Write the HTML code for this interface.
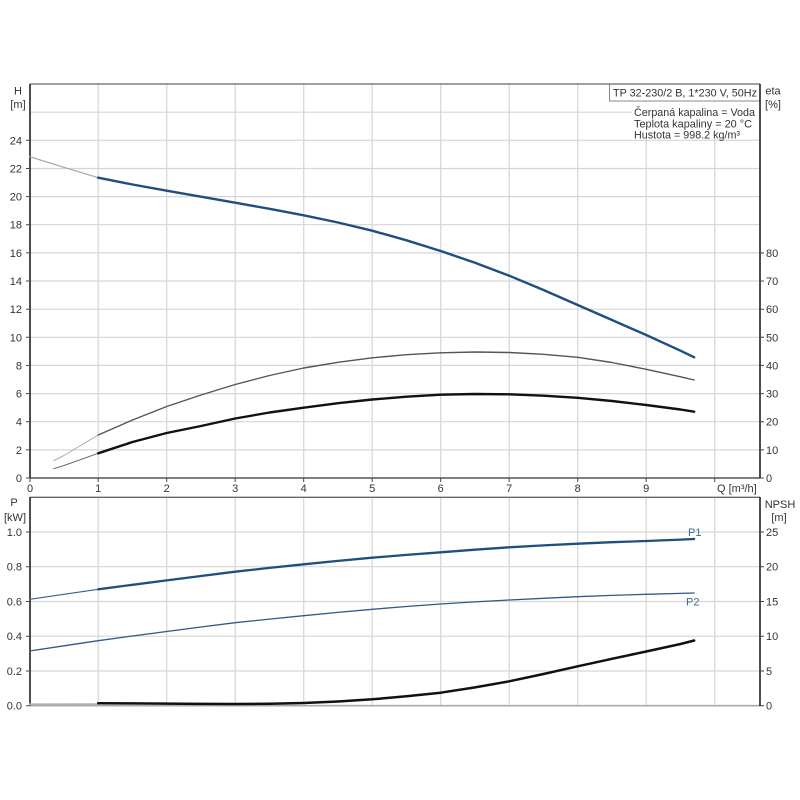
<!DOCTYPE html>
<html><head><meta charset="utf-8"><style>
html,body{margin:0;padding:0;background:#fff;}
svg{display:block;}
text{font-family:"Liberation Sans",Arial,sans-serif;fill:#333;font-size:11px;}
</style></head><body>
<svg width="800" height="800" viewBox="0 0 800 800" xmlns="http://www.w3.org/2000/svg">
<rect x="0" y="0" width="800" height="800" fill="#fff"/>
<!-- top chart grid -->
<g stroke="#d6d6d6" stroke-width="1.2" fill="none">
<path d="M30 449.9H760M30 421.7H760M30 393.6H760M30 365.4H760M30 337.3H760M30 309.2H760M30 281H760M30 252.9H760M30 224.7H760M30 196.6H760M30 168.5H760M30 140.3H760M30 112.2H760"/>
<path d="M98.2 84V478M166.7 84V478M235.2 84V478M303.7 84V478M372.2 84V478M440.7 84V478M509.2 84V478M577.7 84V478M646.2 84V478M714.7 84V478"/>
<!-- bottom grid -->
<path d="M30 671H760M30 636.2H760M30 601.5H760M30 566.7H760M30 532H760"/>
<path d="M98.2 497V706M166.7 497V706M235.2 497V706M303.7 497V706M372.2 497V706M440.7 497V706M509.2 497V706M577.7 497V706M646.2 497V706M714.7 497V706"/>
</g>
<!-- legend boxes -->
<rect x="609.5" y="84" width="150.5" height="17" fill="#fff" stroke="#888" stroke-width="1"/>
<rect x="632" y="102" width="127" height="36" fill="#fff"/>
<text x="613" y="96.5" font-size="10.5" textLength="144" lengthAdjust="spacingAndGlyphs">TP 32-230/2 B, 1*230 V, 50Hz</text>
<text x="634" y="116" font-size="10.5" textLength="121" lengthAdjust="spacingAndGlyphs">Čerpaná kapalina = Voda</text>
<text x="634" y="127.5" font-size="10.5" textLength="118" lengthAdjust="spacingAndGlyphs">Teplota kapaliny = 20 °C</text>
<text x="634" y="138.5" font-size="10.5" textLength="106" lengthAdjust="spacingAndGlyphs">Hustota = 998.2 kg/m³</text>
<!-- axes -->
<g fill="none">
<path d="M30 84H760" stroke="#666" stroke-width="1.2"/>
<path d="M30 478H760" stroke="#555" stroke-width="1.6"/>
<path d="M30 84V478" stroke="#222" stroke-width="1.6"/>
<path d="M760 84V478" stroke="#222" stroke-width="1.6"/>
<path d="M30 497.3H760" stroke="#666" stroke-width="1.4"/>
<path d="M30 705.7H760" stroke="#aaa" stroke-width="1.6"/>
<path d="M30 497V706" stroke="#222" stroke-width="1.6"/>
<path d="M760 497V706" stroke="#222" stroke-width="1.6"/>
<!-- ticks -->
<path stroke="#444" stroke-width="1" d="M26 478H30M26 449.9H30M26 421.7H30M26 393.6H30M26 365.4H30M26 337.3H30M26 309.2H30M26 281H30M26 252.9H30M26 224.7H30M26 196.6H30M26 168.5H30M26 140.3H30
M760 478H764M760 449.9H764M760 421.7H764M760 393.6H764M760 365.4H764M760 337.3H764M760 309.2H764M760 281H764M760 252.9H764
M26 705.7H30M26 671H30M26 636.2H30M26 601.5H30M26 566.7H30M26 532H30
M760 705.7H764M760 671H764M760 636.2H764M760 601.5H764M760 566.7H764M760 532H764
M30 478V482M98.2 478V482M166.7 478V482M235.2 478V482M303.7 478V482M372.2 478V482M440.7 478V482M509.2 478V482M577.7 478V482M646.2 478V482M714.7 478V482"/>
</g>
<!-- left labels -->
<g text-anchor="end">
<text x="22" y="482">0</text>
<text x="22" y="453.9">2</text>
<text x="22" y="425.7">4</text>
<text x="22" y="397.6">6</text>
<text x="22" y="369.4">8</text>
<text x="22" y="341.3">10</text>
<text x="22" y="313.2">12</text>
<text x="22" y="285">14</text>
<text x="22" y="256.9">16</text>
<text x="22" y="228.7">18</text>
<text x="22" y="200.6">20</text>
<text x="22" y="172.5">22</text>
<text x="22" y="144.3">24</text>
<text x="22" y="709.7">0.0</text>
<text x="22" y="675">0.2</text>
<text x="22" y="640.2">0.4</text>
<text x="22" y="605.5">0.6</text>
<text x="22" y="570.7">0.8</text>
<text x="22" y="536">1.0</text>
</g>
<!-- right labels -->
<g>
<text x="766" y="482">0</text>
<text x="766" y="453.9">10</text>
<text x="766" y="425.7">20</text>
<text x="766" y="397.6">30</text>
<text x="766" y="369.4">40</text>
<text x="766" y="341.3">50</text>
<text x="766" y="313.2">60</text>
<text x="766" y="285">70</text>
<text x="766" y="256.9">80</text>
<text x="766" y="709.7">0</text>
<text x="766" y="675">5</text>
<text x="766" y="640.2">10</text>
<text x="766" y="605.5">15</text>
<text x="766" y="570.7">20</text>
<text x="766" y="536">25</text>
</g>
<!-- x labels -->
<g text-anchor="middle">
<text x="30" y="492">0</text>
<text x="98.2" y="492">1</text>
<text x="166.7" y="492">2</text>
<text x="235.2" y="492">3</text>
<text x="303.7" y="492">4</text>
<text x="372.2" y="492">5</text>
<text x="440.7" y="492">6</text>
<text x="509.2" y="492">7</text>
<text x="577.7" y="492">8</text>
<text x="646.2" y="492">9</text>
</g>
<text x="717" y="492" font-size="10.5">Q [m³/h]</text>
<!-- axis titles -->
<text x="18" y="94.5" text-anchor="middle">H</text>
<text x="18" y="108" text-anchor="middle">[m]</text>
<text x="773" y="94.5" text-anchor="middle">eta</text>
<text x="773" y="108" text-anchor="middle">[%]</text>
<text x="14" y="506" text-anchor="middle">P</text>
<text x="15" y="521" text-anchor="middle">[kW]</text>
<text x="780" y="508" text-anchor="middle">NPSH</text>
<text x="779" y="521" text-anchor="middle">[m]</text>
<!-- curves -->
<g fill="none" stroke-linejoin="round" stroke-linecap="round">
<polyline stroke="#9aa" stroke-width="1.2" points="29.7,156.7 64,167.3 98.2,177.7"/>
<polyline stroke="#1e4f7e" stroke-width="2.4" points="98.2,177.7 132.5,184.5 166.7,190.7 201,196.7 235.2,202.7 269.5,208.8 303.7,215.3 338,222.5 372.2,230.7 406.5,240.3 440.7,251 475,262.8 509.2,275.7 543.5,290 577.7,305 612,320 646.2,335 680.5,350.7 694.2,357.3"/>
<polyline stroke="#aaa" stroke-width="1" points="53.7,460.7 64,455.5 98.2,435"/>
<polyline stroke="#555" stroke-width="1.4" points="98.2,435 132.5,420 166.7,406.5 201,395 235.2,384.5 269.5,375.5 303.7,368 338,362.3 372.2,357.8 406.5,354.7 440.7,352.8 475,352 509.2,352.5 543.5,354.3 577.7,357.3 612,362.5 646.2,369.3 680.5,376.8 694.2,380"/>
<polyline stroke="#666" stroke-width="1" points="53.7,468.7 64,465.5 98.2,453.3"/>
<polyline stroke="#111" stroke-width="2.4" points="98.2,453.3 132.5,442 166.7,433 201,426 235.2,418.5 269.5,412.5 303.7,407.7 338,403.2 372.2,399.5 406.5,396.7 440.7,394.7 475,394 509.2,394.3 543.5,395.7 577.7,397.8 612,401 646.2,405 680.5,409.5 694.2,411.7"/>
<polyline stroke="#3d5f84" stroke-width="1.2" points="29.7,599.3 64,594.3 98.2,589.3"/>
<polyline stroke="#1e4f7e" stroke-width="2.3" points="98.2,589.3 132.5,584.8 166.7,580.4 201,576 235.2,571.7 269.5,567.9 303.7,564.3 338,560.9 372.2,557.7 406.5,554.9 440.7,552.3 475,549.7 509.2,547.3 543.5,545.4 577.7,543.7 612,542.2 646.2,541 680.5,539.6 694.2,539"/>
<polyline stroke="#2f5a86" stroke-width="1.3" points="29.7,651 64,645.8 98.2,640.7 132.5,636 166.7,631.5 201,627 235.2,622.7 269.5,619.1 303.7,615.7 338,612.4 372.2,609.3 406.5,606.5 440.7,604 475,601.9 509.2,600 543.5,598.3 577.7,596.7 612,595.4 646.2,594.3 680.5,593.4 694.2,593"/>
<polyline stroke="#b0b0b0" stroke-width="2" points="29.7,704.4 98.2,704.2"/>
<polyline stroke="#111" stroke-width="2.5" points="98.2,703.3 132.5,703.4 166.7,703.6 201,703.9 235.2,704 269.5,703.8 303.7,703 338,701.5 372.2,699.3 406.5,696.3 440.7,692.7 475,687.4 509.2,681.3 543.5,674 577.7,666.3 612,658.8 646.2,651.5 680.5,644 694.2,640.5"/>
</g>
<text x="688" y="536" style="fill:#3d6a96">P1</text>
<text x="686" y="605.5" style="fill:#3d6a96">P2</text>
</svg>
</body></html>
